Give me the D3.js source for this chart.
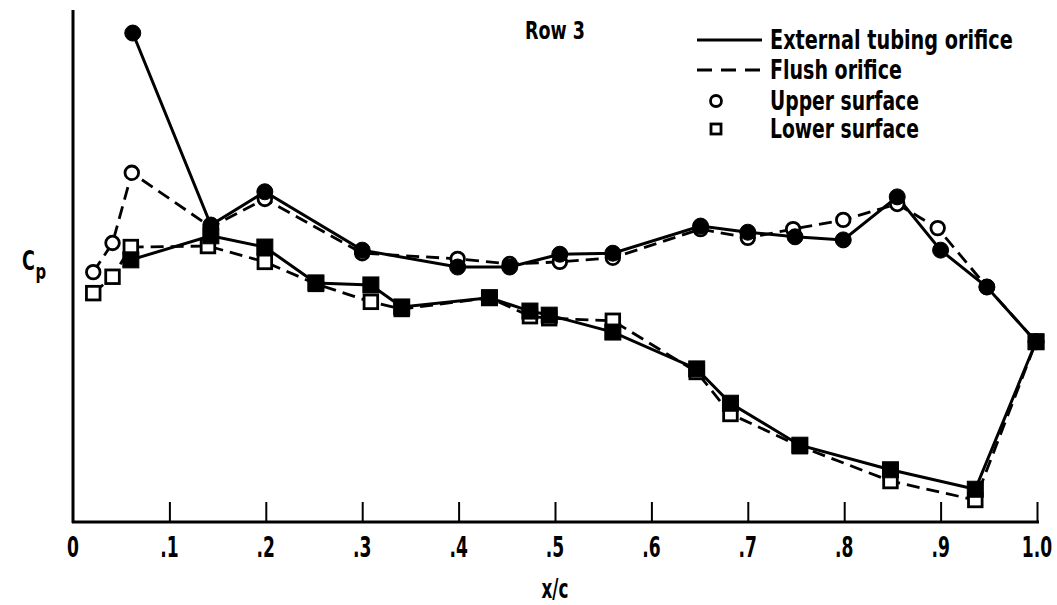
<!DOCTYPE html>
<html>
<head>
<meta charset="utf-8">
<script src="https://cdn.jsdelivr.net/npm/d3@7"></script>
<style>
  html, body { margin: 0; padding: 0; background: #fff; }
  svg text { font-family: "DejaVu Sans Condensed", "Liberation Sans Narrow", "DejaVu Sans", sans-serif; font-weight: bold; fill: #000; }
</style>
</head>
<body>
<svg id="chart" width="1057" height="605"></svg>
<script>
// x/c stations and Cp (arbitrary units, larger = higher on chart; axis is unlabeled)
const upperExtX = [0.062, 0.143, 0.199, 0.300, 0.399, 0.453, 0.505, 0.560, 0.651, 0.700, 0.749, 0.799, 0.855, 0.900, 0.948, 0.999];
const upperExtCp = [9.55, 5.80, 6.45, 5.31, 4.98, 4.98, 5.23, 5.25, 5.78, 5.66, 5.57, 5.51, 6.35, 5.31, 4.59, 3.52];

const upperFlushX = [0.021, 0.041, 0.061, 0.143, 0.199, 0.300, 0.399, 0.453, 0.505, 0.560, 0.651, 0.700, 0.747, 0.799, 0.855, 0.897, 0.948, 0.999];
const upperFlushCp = [4.88, 5.45, 6.82, 5.76, 6.31, 5.25, 5.14, 5.04, 5.08, 5.16, 5.72, 5.55, 5.72, 5.90, 6.21, 5.74, 4.59, 3.52];

const lowerExtX = [0.060, 0.143, 0.199, 0.252, 0.309, 0.341, 0.432, 0.474, 0.494, 0.560, 0.647, 0.682, 0.754, 0.848, 0.936, 0.999];
const lowerExtCp = [5.12, 5.59, 5.37, 4.67, 4.63, 4.20, 4.38, 4.12, 4.04, 3.71, 2.99, 2.32, 1.50, 1.02, 0.64, 3.52];

const lowerFlushX = [0.021, 0.041, 0.060, 0.140, 0.199, 0.252, 0.309, 0.341, 0.432, 0.474, 0.494, 0.560, 0.647, 0.682, 0.754, 0.848, 0.936, 0.999];
const lowerFlushCp = [4.47, 4.79, 5.37, 5.39, 5.08, 4.65, 4.30, 4.16, 4.38, 4.02, 3.98, 3.93, 2.93, 2.11, 1.48, 0.80, 0.43, 3.52];

const xTicks = [0.1, 0.2, 0.3, 0.4, 0.5, 0.6, 0.7, 0.8, 0.9, 1.0];
const xTickLabels = ["0", ".1", ".2", ".3", ".4", ".5", ".6", ".7", ".8", ".9", "1.0"];
const legendLabels = ["External tubing orifice", "Flush orifice", "Upper surface", "Lower surface"];
const titleText = "Row 3";

const zip = (xs, ys) => xs.map((x, i) => ({x, y: ys[i]}));
const series = [
  {name: "upperFlush", data: zip(upperFlushX, upperFlushCp), dashed: true, shape: "circle", filled: false},
  {name: "lowerFlush", data: zip(lowerFlushX, lowerFlushCp), dashed: true, shape: "square", filled: false},
  {name: "upperExt", data: zip(upperExtX, upperExtCp), dashed: false, shape: "circle", filled: true},
  {name: "lowerExt", data: zip(lowerExtX, lowerExtCp), dashed: false, shape: "square", filled: true}
];

const svg = d3.select("#chart");
const x = d3.scaleLinear().domain([0, 1]).range([73, 1037]);
const y = d3.scaleLinear().domain([0, 10]).range([522, 10]);

// condensed text helper (horizontal scale)
function ctext(parent, tx, ty, str, size, sx, anchor) {
  return parent.append("text")
    .attr("transform", `translate(${tx},${ty}) scale(${sx},1)`)
    .attr("text-anchor", anchor || "start")
    .attr("font-size", size)
    .text(str);
}
// condensed text fitted to a given width
function ftext(parent, tx, ty, str, size, width) {
  const t = ctext(parent, tx, ty, str, size, 1);
  const w = t.node().getComputedTextLength();
  const sx = Math.min(1, width / w);
  t.attr("transform", `translate(${tx},${ty}) scale(${sx},1)`);
  return t;
}

// axes frame
svg.append("line").attr("x1", 73).attr("x2", 73).attr("y1", 10).attr("y2", 523)
  .attr("stroke", "#000").attr("stroke-width", 3);
svg.append("line").attr("x1", 72).attr("x2", 1039).attr("y1", 522).attr("y2", 522)
  .attr("stroke", "#000").attr("stroke-width", 3);

// x ticks (pointing up) via d3 axis
const xAxis = d3.axisTop(x).tickValues(xTicks).tickSize(20).tickFormat("");
const gx = svg.append("g").attr("transform", "translate(0,522)").call(xAxis);
gx.select(".domain").remove();
gx.selectAll(".tick line").attr("stroke", "#000").attr("stroke-width", 2);

// tick labels
const tg = svg.append("g");
[0].concat(xTicks).forEach((d, i) => {
  ctext(tg, x(d), 557, xTickLabels[i], 28, 0.68, "middle");
});

// axis titles
ctext(svg, 555, 598, "x/c", 26, 0.72, "middle");
const cp = svg.append("text")
  .attr("transform", "translate(22,270) scale(0.75,1)")
  .attr("font-size", 26);
cp.append("tspan").text("C");
cp.append("tspan").attr("dy", 9).attr("dx", 1).attr("font-size", 22).text("p");

// title
ftext(svg, 525, 39, titleText, 24, 60);

// lines
const line = d3.line().x(d => x(d.x)).y(d => y(d.y));
svg.append("g").selectAll("path").data(series).join("path")
  .attr("d", d => line(d.data))
  .attr("fill", "none").attr("stroke", "#000").attr("stroke-width", d => d.dashed ? 2.8 : 3)
  .attr("stroke-dasharray", d => d.dashed ? "13,7" : null);

// markers
const mg = svg.append("g");
series.forEach(s => {
  const g = mg.append("g");
  if (s.shape === "circle") {
    g.selectAll("circle").data(s.data).join("circle")
      .attr("cx", d => x(d.x)).attr("cy", d => y(d.y))
      .attr("r", s.filled ? 8 : 6.8)
      .attr("fill", s.filled ? "#000" : "#fff")
      .attr("stroke", "#000").attr("stroke-width", s.filled ? 1 : 2.8);
  } else {
    const h = s.filled ? 8 : 6.8;
    g.selectAll("rect").data(s.data).join("rect")
      .attr("x", d => x(d.x) - h).attr("y", d => y(d.y) - h)
      .attr("width", 2 * h).attr("height", 2 * h)
      .attr("fill", s.filled ? "#000" : "#fff")
      .attr("stroke", "#000").attr("stroke-width", s.filled ? 1 : 2.8);
  }
});

// legend
const lg = svg.append("g");
lg.append("line").attr("x1", 697).attr("x2", 762).attr("y1", 40).attr("y2", 40)
  .attr("stroke", "#000").attr("stroke-width", 2.8);
lg.append("line").attr("x1", 697).attr("x2", 762).attr("y1", 70).attr("y2", 70)
  .attr("stroke", "#000").attr("stroke-width", 2.8).attr("stroke-dasharray", "15,9");
lg.append("circle").attr("cx", 716).attr("cy", 101).attr("r", 5.5)
  .attr("fill", "#fff").attr("stroke", "#000").attr("stroke-width", 2.8);
lg.append("rect").attr("x", 711).attr("y", 124).attr("width", 10).attr("height", 10)
  .attr("fill", "#fff").attr("stroke", "#000").attr("stroke-width", 2.8);
const ly = [40, 70, 101, 129];
const lw = [243, 132, 149, 149];
legendLabels.forEach((d, i) => ftext(lg, 770, ly[i] + 9, d, 26, lw[i]));
</script>
</body>
</html>
